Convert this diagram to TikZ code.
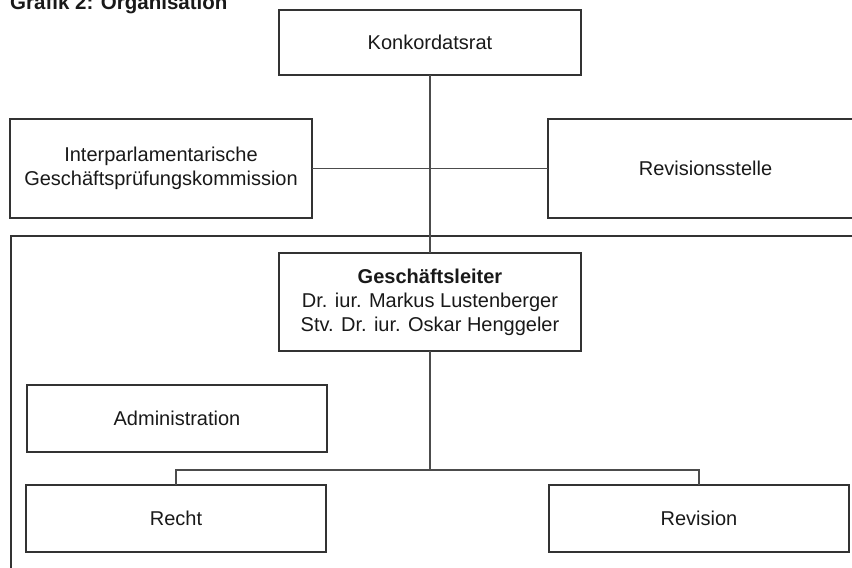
\documentclass[tikz,border=0pt]{standalone}
\usepackage{fontspec}
\setmainfont{Liberation Sans}
\usepackage{tikz}
\usetikzlibrary{calc}
\usetikzlibrary{positioning}
\tikzset{
  myline/.style={
    draw=black!70,
    line width=1.3pt,
  },
  mybox/.style={
    draw=black!80,
    shape=rectangle,
    line width=1.3pt,
    align=center,
    inner sep=0pt,
    outer sep=0pt,
    text=black!90,
    minimum width=302pt,
    minimum height=66pt,
    font=\fontsize{20}{24}\selectfont
  },
}

\begin{document}
\begin{tikzpicture}[x=1pt, y=-1pt]
    \useasboundingbox (0,0) rectangle (852,568);
    \clip (0,0) rectangle (852,568);

    \node[anchor=base west, font=\bfseries\fontsize{20.5}{24}\selectfont, text=black!90, inner sep=0pt] (titel) at (10, 9) {Grafik 2: Organisation};

    % Geschaeftsstelle (Rahmen)
    \node[mybox, minimum width=900pt, minimum height=400pt, anchor=north west] (stelle) at (11, 236) {};

    \node[mybox, minimum height=65pt] (konk) at (430, 42.5) {Konkordatsrat};
    \node[mybox, minimum height=99pt] (ipk) at (161, 168.5) {Interparlamentarische\\Gesch\"aftspr\"ufungskommission};
    \node[mybox, minimum width=315pt, minimum height=99pt] (revst) at (705.5, 168.5) {Revisionsstelle};

    \node[mybox, minimum height=98pt] (gl) at (430, 302) {\textbf{Gesch\"aftsleiter}\\Dr. iur. Markus Lustenberger\\Stv. Dr. iur. Oskar Henggeler};

    \node[mybox, minimum width=300pt, minimum height=67pt] (admin) at (177, 418.5) {Administration};
    \node[mybox, minimum width=300pt, minimum height=67pt] (recht) at (176, 518.5) {Recht};
    \node[mybox, minimum width=300pt, minimum height=67pt] (revision) at (699, 518.5) {Revision};

    \coordinate (v) at (430, 470);

    \draw [myline] (konk) -- (gl);
    \draw [myline] (ipk.east) -- (revst.west);
    \draw [myline] (gl) -- (v);
    \draw [myline] (recht.north) -- (recht.north |- v) -- (revision.north |- v) -- (revision.north);
\end{tikzpicture}
\end{document}
